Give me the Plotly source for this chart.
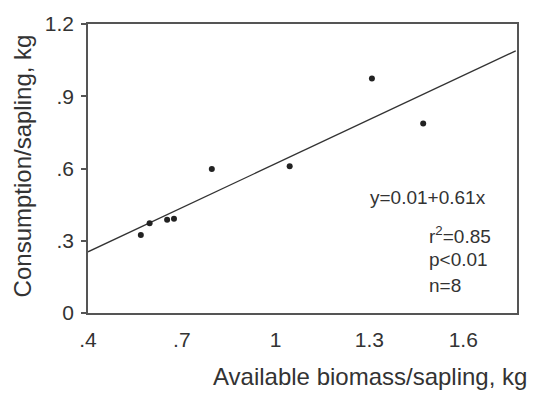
import plotly.graph_objects as go

# Data
biomass = [0.569, 0.597, 0.653, 0.675, 0.796, 1.045, 1.308, 1.472]
consumption = [0.324, 0.373, 0.387, 0.391, 0.598, 0.609, 0.974, 0.787]

intercept = 0.01
slope = 0.61
fit_x = [0.4, 1.768]
fit_y = [intercept + slope * v for v in fit_x]

x_tickvals = [0.4, 0.7, 1.0, 1.3, 1.6]
x_ticktext = [".4", ".7", "1", "1.3", "1.6"]
y_tickvals = [0, 0.3, 0.6, 0.9, 1.2]
y_ticktext = ["0", ".3", ".6", ".9", "1.2"]

stats_lines = ["y=0.01+0.61x", "r<sup>2</sup>=0.85", "p<0.01", "n=8"]

font_family = "Liberation Sans, Arial, Helvetica, sans-serif"
ink = "#333333"

fig = go.Figure()
fig.add_trace(go.Scatter(x=fit_x, y=fit_y, mode="lines",
                         line=dict(color="#333333", width=1.3), showlegend=False))
fig.add_trace(go.Scatter(x=biomass, y=consumption, mode="markers",
                         marker=dict(color="#222222", size=6), showlegend=False))

fig.update_layout(
    width=540, height=393,
    margin=dict(l=88, r=23, t=15, b=80),
    paper_bgcolor="white", plot_bgcolor="white",
    font=dict(family=font_family, color=ink, size=21),
    xaxis=dict(range=[0.4, 1.772], tickvals=x_tickvals, ticktext=x_ticktext,
               showgrid=False, zeroline=False, showline=True, mirror=True,
               linecolor="#555555", linewidth=1.5,
               ticks="outside", ticklen=7, tickcolor="rgba(0,0,0,0)",
               tickfont=dict(size=21, color=ink)),
    yaxis=dict(range=[0, 1.2], tickvals=y_tickvals, ticktext=y_ticktext,
               showgrid=False, zeroline=False, showline=True, mirror=True,
               linecolor="#555555", linewidth=1.5,
               ticks="outside", ticklen=5, tickcolor="#555555", tickwidth=1.5,
               ticklabelstandoff=3,
               tickfont=dict(size=21, color=ink)),
)

annotations = [
    dict(text="Available biomass/sapling, kg", xref="paper", yref="paper",
         x=1.0275, y=-0.22, xanchor="right", yanchor="middle", showarrow=False,
         font=dict(size=24, color=ink)),
    dict(text="Consumption/sapling, kg", xref="paper", yref="paper",
         x=-0.152, y=0.51, xanchor="center", yanchor="middle", textangle=-90,
         showarrow=False, font=dict(size=24, color=ink)),
]
stat_pos = [(1.296, 0.48), (1.483, 0.325), (1.483, 0.224), (1.483, 0.116)]
for txt, (ax, ay) in zip(stats_lines, stat_pos):
    annotations.append(dict(text=txt, x=ax, y=ay, xref="x", yref="y",
                            xanchor="left", yanchor="middle", showarrow=False,
                            font=dict(size=19, color=ink)))
fig.update_layout(annotations=annotations)

fig.write_html("out.html")
